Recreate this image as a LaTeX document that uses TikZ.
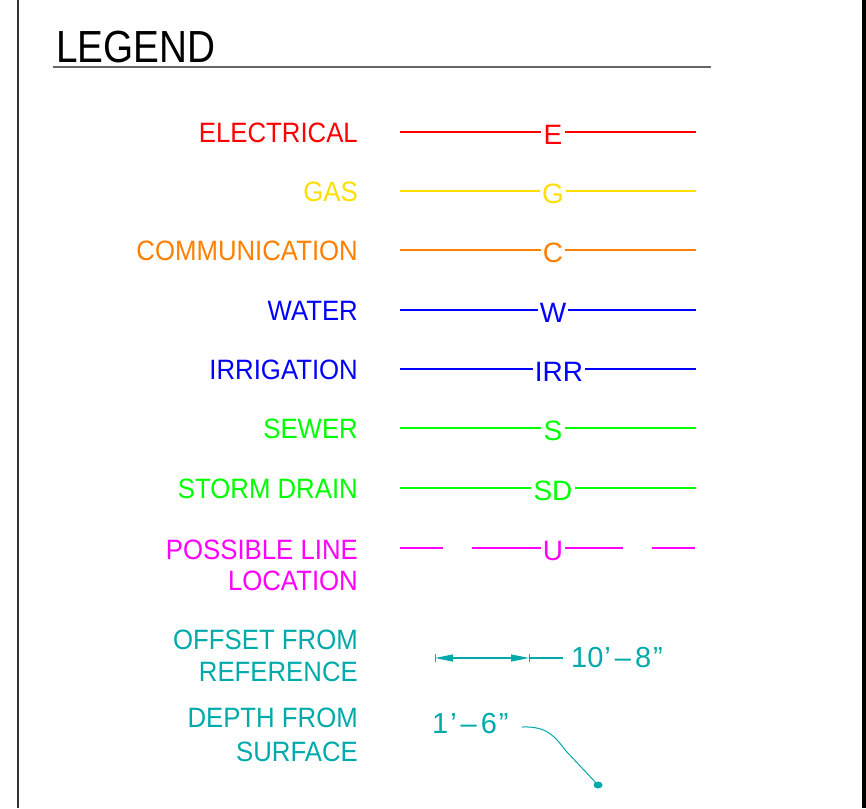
\documentclass[tikz,border=0pt]{standalone}
\usepackage{fontspec}
\setmainfont{Liberation Sans}
\usetikzlibrary{arrows.meta,calc}
\definecolor{cRed}{RGB}{255,0,0}
\definecolor{cGas}{RGB}{255,222,0}
\definecolor{cOrange}{RGB}{255,128,0}
\definecolor{cBlue}{RGB}{0,0,255}
\definecolor{cGreen}{RGB}{0,255,0}
\definecolor{cMag}{RGB}{255,0,255}
\definecolor{cTeal}{RGB}{0,170,170}
\newcommand{\lbltxt}[1]{\scalebox{0.92}[1]{#1}}
\begin{document}
\begin{tikzpicture}[x=1pt,y=-1pt,
  lbl/.style={anchor=east,inner sep=0pt,font=\fontsize{28}{34}\selectfont,align=right},
  tag/.style={inner xsep=2pt,inner ysep=0pt,font=\fontsize{28}{34}\selectfont},
  uline/.style={line width=1.3pt}]
\useasboundingbox (0,0) rectangle (866,808);
% frame
\draw[line width=1.4pt,black!80] (18,0) -- (18,808);
\fill[black] (862,0) rectangle (866,808);
% title
\node[anchor=south west,inner sep=0pt,font=\fontsize{45}{50}\selectfont] (title) at (56,63) {\scalebox{0.86}[1]{LEGEND}};
\draw[line width=1.4pt,black!60] (53,67) -- (711,67);

% utility lines
\foreach \n/\y/\t/\c/\lab/\cx in {e/132/E/cRed/ELECTRICAL/553,
  g/191/G/cGas/GAS/553,
  c/250/C/cOrange/COMMUNICATION/553,
  w/310/W/cBlue/WATER/553,
  irr/369/IRR/cBlue/IRRIGATION/559,
  s/428/S/cGreen/SEWER/553,
  sd/488/SD/cGreen/STORM DRAIN/553}{
  \node[lbl,text=\c] (L\n) at (358,\y+1) {\lbltxt{\lab}};
  \node[tag,text=\c] (T\n) at (\cx,\y+3) {\t};
  \coordinate (A\n) at (400,\y);
  \coordinate (B\n) at (696,\y);
  \draw[uline,\c] (A\n) -- (T\n.west |- A\n);
  \draw[uline,\c] (T\n.east |- B\n) -- (B\n);
}

% possible line location
\node[lbl,text=cMag] (Lu1) at (358,550) {\lbltxt{POSSIBLE LINE}};
\node[lbl,text=cMag] (Lu2) at (358,581) {\lbltxt{LOCATION}};
\node[tag,text=cMag] (Tu) at (553,551) {U};
\coordinate (Au1) at (400,548); \coordinate (Au2) at (443,548);
\coordinate (Au3) at (472,548);
\coordinate (Bu3) at (623,548);
\coordinate (Bu4) at (652,548); \coordinate (Bu5) at (695,548);
\draw[uline,cMag] (Au1) -- (Au2);
\draw[uline,cMag] (Au3) -- (Tu.west |- Au3);
\draw[uline,cMag] (Tu.east |- Bu3) -- (Bu3);
\draw[uline,cMag] (Bu4) -- (Bu5);

% offset from reference
\node[lbl,text=cTeal] (Lo1) at (358,640) {\lbltxt{OFFSET FROM}};
\node[lbl,text=cTeal] (Lo2) at (358,672) {\lbltxt{REFERENCE}};
\coordinate (D1) at (435,658);
\coordinate (D2) at (529,658);
\coordinate (D3) at (563,658);
\node[anchor=west,inner sep=0pt,text=cTeal,font=\fontsize{29}{34}\selectfont] (Dtxt) at (571,657.5) {10\kern1pt’\kern4pt–\kern4pt8\kern2pt”};
\draw[line width=1.2pt,cTeal,{Triangle[length=18pt,width=7pt]}-{Triangle[length=18pt,width=7pt]}] (D1) -- (D2);
\draw[line width=1.2pt,cTeal] (D2) -- (D3);
\draw[line width=1pt,cTeal] ($(D1)+(0,-4)$) -- ($(D1)+(0,4)$);
\draw[line width=1pt,cTeal] ($(D2)+(0,-4)$) -- ($(D2)+(0,4)$);

% depth from surface
\node[lbl,text=cTeal] (Ld1) at (358,718) {\lbltxt{DEPTH FROM}};
\node[lbl,text=cTeal] (Ld2) at (358,752) {\lbltxt{SURFACE}};
\node[anchor=west,inner sep=0pt,text=cTeal,font=\fontsize{29}{34}\selectfont] (Dep) at (432,724) {1\kern2pt’\kern4pt–\kern4pt6\kern2pt”};
\coordinate (P0) at (522,727);
\coordinate (P1) at (598,785);
\draw[line width=1pt,cTeal] (P0) .. controls (548,726) and (555,737) .. (566,751) -- (P1);
\fill[cTeal] (P1) ellipse [x radius=4.5,y radius=3.5];
\end{tikzpicture}
\end{document}
